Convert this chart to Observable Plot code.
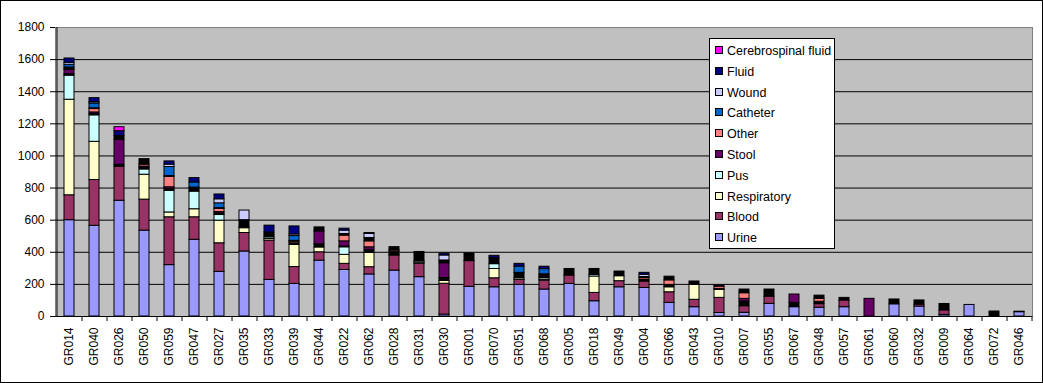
<!DOCTYPE html>
<html>
<head>
<meta charset="utf-8">
<script src="https://cdn.jsdelivr.net/npm/d3@7"></script>
<script src="https://cdn.jsdelivr.net/npm/@observablehq/plot@0.6"></script>
<style>
  body { margin: 0; background: white; }
  #wrap { position: relative; width: 1043px; height: 383px; overflow: hidden; background: white; }
  #border { position: absolute; left: 0; top: 0; width: 1043px; height: 383px; box-sizing: border-box; border: 1px solid black; pointer-events: none; }
  #legend { position: absolute; left: 709px; top: 38px; width: 126px; height: 211px; box-sizing: border-box; border: 1px solid black; background: white; font-family: Arial, "Liberation Sans", sans-serif; font-size: 12.5px; }
  .li { position: absolute; left: 5px; height: 14px; line-height: 14px; white-space: nowrap; }
  .sw { display: inline-block; width: 6px; height: 6px; border: 1px solid black; margin-right: 4px; vertical-align: 1px; }
</style>
</head>
<body>
<div id="wrap"><div id="chart"></div><div id="legend"></div><div id="border"></div></div>
<script>
const categories = ["GR014","GR040","GR026","GR050","GR059","GR047","GR027","GR035","GR033","GR039","GR044","GR022","GR062","GR028","GR031","GR030","GR001","GR070","GR051","GR068","GR005","GR018","GR049","GR004","GR066","GR043","GR010","GR007","GR055","GR067","GR048","GR057","GR061","GR060","GR032","GR009","GR064","GR072","GR046"];

const urine      = [600,565,721,535,320,478,278,405,228,203, 348,290,262,286,245,12,185,182,197,168, 203,95,182,178,85,58,22,23,79,58, 55,58,0,76,62,10,72,0,27];
const blood      = [155,285,212,193,298,140,178,115,245,105, 52,38,45,93,83,192,160,56,31,55, 52,52,38,40,66,46,94,41,45,0, 22,42,0,0,12,28,0,0,0];
const respiratory= [595,238,0,155,30,50,141,30,10,138, 30,56,89,5,8,18,0,58,10,6, 0,102,31,0,31,93,50,0,0,0, 0,0,0,0,0,0,0,0,0];
const pus        = [150,165,0,33,135,110,35,0,10,0, 0,47,0,0,8,0,0,30,0,10, 0,10,0,0,0,0,0,0,0,0, 0,0,0,0,0,0,0,0,0];
const unknown    = [10,8,12,10,12,20,10,0,15,10, 20,5,19,20,0,18,48,0,0,8, 41,37,29,12,10,21,6,30,44,27, 15,16,0,30,26,40,0,31,3];
const stool      = [25,10,154,8,10,0,8,8,0,0, 80,32,16,0,0,92,0,0,0,8, 0,0,0,0,5,0,0,16,0,52, 0,0,110,0,0,0,0,0,0];
const other      = [8,21,0,12,65,0,20,0,0,10, 0,36,37,8,0,0,0,0,0,0, 0,0,0,10,28,0,14,35,0,0, 18,0,0,0,0,0,0,0,0];
const unspecified= [8,5,25,34,5,5,5,42,15,5, 25,10,21,20,58,17,0,38,34,8, 0,0,0,6,23,0,0,23,0,0, 20,0,0,0,0,0,0,0,0];
const catheter   = [17,30,0,0,56,32,30,0,0,30, 0,0,0,0,0,0,0,0,39,32, 0,0,0,0,0,0,0,0,0,0, 0,0,0,0,0,0,0,0,0];
const wound      = [12,8,0,0,15,0,25,60,0,10, 0,21,25,0,0,31,0,0,0,0, 0,0,0,14,0,0,0,0,0,0, 0,0,0,0,0,0,0,0,0];
const fluid      = [27,25,30,0,20,27,30,0,43,50, 0,12,6,0,0,12,0,14,17,15, 0,0,0,12,0,0,7,0,0,0, 0,0,0,0,0,0,0,0,0];
const csf        = [0,0,25,0,0,0,0,0,0,0, 0,0,0,0,0,0,0,0,0,0, 0,0,0,0,0,0,0,0,0,0, 0,0,0,0,0,0,0,0,0];

const seriesNames  = ["Urine","Blood","Respiratory","Pus","Unknown","Stool","Other","Unspecified","Catheter","Wound","Fluid","Cerebrospinal fluid"];
const seriesValues = [urine,blood,respiratory,pus,unknown,stool,other,unspecified,catheter,wound,fluid,csf];
const seriesColors = ["#9999FF","#993366","#FFFFCC","#CCFFFF","#000000","#660066","#FF8080","#000000","#0066CC","#CCCCFF","#000080","#FF00FF"];
const legendSeries = ["Cerebrospinal fluid","Fluid","Wound","Catheter","Other","Stool","Pus","Respiratory","Blood","Urine"];
const yTicks = [0,200,400,600,800,1000,1200,1400,1600,1800];

const data = [];
categories.forEach((c, i) => {
  seriesNames.forEach((s, j) => {
    const v = seriesValues[j][i];
    if (v > 0) data.push({cat: c, series: s, value: v});
  });
});

const W = 1043, H = 383, mL = 55, mR = 11, mT = 27, mB = 67;
const bw = (W - mL - mR) / categories.length;

const chart = Plot.plot({
  width: W, height: H,
  marginLeft: mL, marginRight: mR, marginTop: mT, marginBottom: mB,
  style: {background: "white", fontFamily: "Arial, 'Liberation Sans', sans-serif", fontSize: "12px", color: "black"},
  x: {domain: categories, paddingInner: 0.6, paddingOuter: 0.3, label: null},
  y: {domain: [0, 1800], label: null},
  color: {domain: seriesNames, range: seriesColors},
  marks: [
    Plot.frame({fill: "#C0C0C0", stroke: "#808080"}),
    Plot.gridY(yTicks.filter(v => v > 0 && v < 1800), {stroke: "black", strokeOpacity: 1}),
    Plot.barY(data, {x: "cat", y: "value", fill: "series", order: seriesNames, stroke: "black", strokeWidth: 1}),
    Plot.ruleY([0], {stroke: "black"}),
    Plot.ruleX([categories[0]], {dx: -bw / 2, y1: 0, y2: 1800, stroke: "black"}),
    Plot.axisY({ticks: yTicks, tickSize: 5, tickPadding: 6, tickFormat: d => String(d), label: null, stroke: "black", fill: "black"}),
    Plot.axisX({tickSize: 0, tickPadding: 11, tickRotate: -90, label: null, fill: "black"}),
    Plot.axisX({tickSize: 5, text: null, dx: bw / 2, label: null, stroke: "black"})
  ]
});
document.getElementById("chart").appendChild(chart);

const leg = document.getElementById("legend");
legendSeries.forEach((s, i) => {
  const d = document.createElement("div");
  d.className = "li";
  d.style.top = (5 + i * 20.8) + "px";
  const sw = document.createElement("span");
  sw.className = "sw";
  sw.style.background = seriesColors[seriesNames.indexOf(s)];
  d.appendChild(sw);
  d.appendChild(document.createTextNode(s));
  leg.appendChild(d);
});
</script>
</body>
</html>
